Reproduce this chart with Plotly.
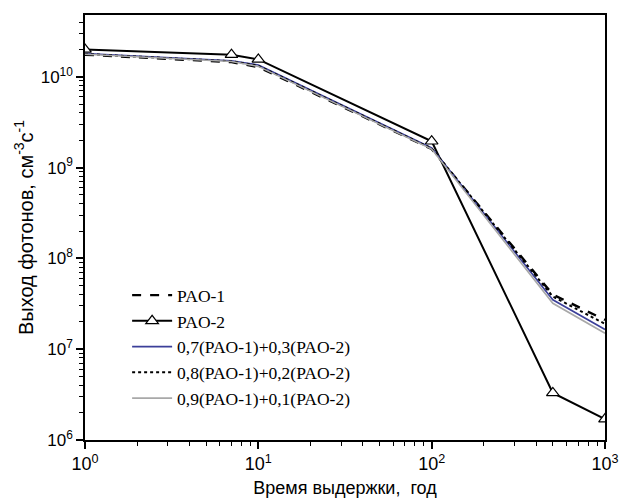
import plotly.graph_objects as go

years = [1, 7, 10, 100, 500, 1000]
pao1 = [1.75e10, 1.45e10, 1.28e10, 1.6e9, 4.0e7, 2.1e7]
pao2 = [2.0e10, 1.75e10, 1.55e10, 1.95e9, 3.3e6, 1.7e6]
mix73 = [1.8e10, 1.5e10, 1.35e10, 1.65e9, 3.5e7, 1.65e7]
mix82 = [1.78e10, 1.48e10, 1.32e10, 1.62e9, 3.8e7, 1.9e7]
mix91 = [1.77e10, 1.47e10, 1.3e10, 1.6e9, 3.2e7, 1.5e7]

names = ["PAO-1", "PAO-2", "0,7(PAO-1)+0,3(PAO-2)", "0,8(PAO-1)+0,2(PAO-2)", "0,9(PAO-1)+0,1(PAO-2)"]

x_tickvals = [1, 10, 100, 1000]
x_ticktext = ["10<sup>0</sup>", "10<sup>1</sup>", "10<sup>2</sup>", "10<sup>3</sup>"]
y_tickvals = [1e6, 1e7, 1e8, 1e9, 1e10]
y_ticktext = ["10<sup>6</sup>", "10<sup>7</sup>", "10<sup>8</sup>", "10<sup>9</sup>", "10<sup>10</sup>"]

x_minor = [m * 10 ** e for e in range(0, 3) for m in range(2, 10)]
y_minor = [m * 10 ** e for e in range(6, 11) for m in range(2, 10)]

fig = go.Figure()
fig.add_trace(go.Scatter(x=years, y=pao1, name=names[0], mode="lines",
                         line=dict(color="black", width=2.4, dash="dash")))
fig.add_trace(go.Scatter(x=years, y=pao2, name=names[1], mode="lines+markers",
                         line=dict(color="black", width=2),
                         marker=dict(symbol="triangle-up", size=11, color="white",
                                     line=dict(color="black", width=1.2))))
fig.add_trace(go.Scatter(x=years, y=mix73, name=names[2], mode="lines",
                         line=dict(color="#3b3f99", width=1.6)))
fig.add_trace(go.Scatter(x=years, y=mix82, name=names[3], mode="lines",
                         line=dict(color="black", width=2, dash="dot")))
fig.add_trace(go.Scatter(x=years, y=mix91, name=names[4], mode="lines",
                         line=dict(color="#a8a8a8", width=1.6)))

axis_common = dict(
    showgrid=False, zeroline=False, showline=True, linecolor="black", linewidth=1.5,
    mirror=True, ticks="outside", ticklen=7, tickwidth=1.5, tickcolor="black",
    automargin=False,
    tickfont=dict(family="Liberation Sans, Arial", size=18, color="black"),
)

fig.update_xaxes(type="log", range=[0, 3], tickmode="array", tickvals=x_tickvals, ticktext=x_ticktext,
                 minor=dict(tickmode="array", tickvals=x_minor, ticks="outside", ticklen=4,
                            tickwidth=1.2, tickcolor="black", showgrid=False),
                 title=dict(text="Время выдержки,  год", standoff=8,
                            font=dict(family="Liberation Sans, Arial", size=18, color="black")),
                 **axis_common)
fig.update_yaxes(type="log", range=[6, 10.68], tickmode="array", tickvals=y_tickvals, ticktext=y_ticktext,
                 tickfont=dict(family="Liberation Sans, Arial", size=17, color="black"),
                 minor=dict(tickmode="array", tickvals=y_minor, ticks="outside", ticklen=4,
                            tickwidth=1.2, tickcolor="black", showgrid=False),
                 title=dict(text="Выход фотонов, см<sup>-3</sup>с<sup>-1</sup>", standoff=2,
                            font=dict(family="Liberation Sans, Arial", size=20, color="black")),
                 **{k: v for k, v in axis_common.items() if k != "tickfont"})

fig.update_layout(
    width=621, height=504,
    margin=dict(l=85, r=16, t=15, b=64),
    plot_bgcolor="white", paper_bgcolor="white",
    showlegend=True,
    legend=dict(x=0.081, y=0.383, xanchor="left", yanchor="top",
                bgcolor="rgba(0,0,0,0)", borderwidth=0,
                font=dict(family="Liberation Serif, Times New Roman", size=17.5, color="black"),
                itemwidth=40, tracegroupgap=0),
)

fig.write_html("out.html", config={"displayModeBar": False},
               post_script="document.body.style.margin='0';document.body.style.overflow='hidden';")
